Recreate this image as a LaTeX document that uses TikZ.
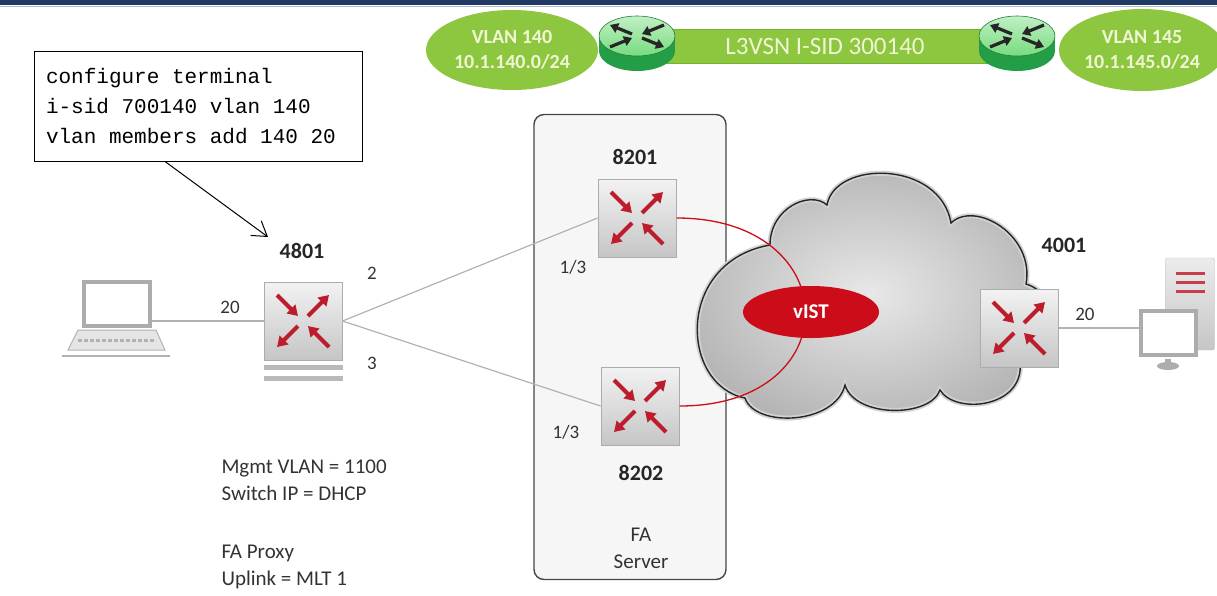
\documentclass[tikz,border=0pt]{standalone}
\usepackage{fontspec}
\setmainfont{Carlito}
\setmonofont{Liberation Mono}
\usepackage{tikz}
\usetikzlibrary{arrows.meta,calc,shapes.geometric}

\definecolor{vsngreen}{RGB}{141,198,63}
\definecolor{vsnedge}{RGB}{118,178,48}
\definecolor{rtrtop}{RGB}{118,220,126}
\definecolor{rtrside}{RGB}{36,158,70}
\definecolor{swred}{RGB}{188,28,44}
\definecolor{istred}{RGB}{204,12,24}
\definecolor{bubbletext}{RGB}{240,246,212}
\definecolor{topbar}{RGB}{31,56,100}

% monospaced CLI text; \clisp is one full character cell
\newcommand{\clifont}{\ttfamily\fontsize{21}{30}\selectfont}
\newcommand{\clisp}{\hspace*{0.6em}}

% the four red arrows on a switch
\newcommand{\swarrows}[1]{%
  \begin{scope}[shift={(#1.center)}, -{Triangle[length=10pt,width=12pt]}, line width=4pt, swred]
    \draw (-26,-26) -- (-5,-5);
    \draw (5,-5) -- (26,-26);
    \draw (-5,5) -- (-26,26);
    \draw (26,26) -- (5,5);
  \end{scope}}

% green router disc
\newcommand{\greenrouter}[2]{%
  \begin{scope}[shift={#2}]
    \coordinate (#1) at (0,0);
    \fill[rtrside] (0,15) ellipse[x radius=38, y radius=20];
    \fill[rtrside] (-38,0) rectangle (38,15);
    \shade[top color=rtrtop!45!white, bottom color=rtrtop, draw=rtrside!80!black, line width=0.6pt]
      (0,0) ellipse[x radius=38, y radius=20];
    \begin{scope}[-{Triangle[length=8pt,width=10pt]}, line width=3.2pt, black!85]
      \draw (-5,-2) -- (-27,-11);
      \draw (5,2) -- (27,11);
      \draw (27,-11) -- (5,-2);
      \draw (-27,11) -- (-5,2);
    \end{scope}
  \end{scope}}

\begin{document}
\begin{tikzpicture}[x=1pt, y=-1pt,
  switch/.style={rectangle, minimum size=78pt, inner sep=0pt, draw=gray!65, line width=1pt,
    top color=gray!10, bottom color=gray!45},
  devlbl/.style={font=\fontsize{22}{24}\selectfont\bfseries, text=black!85},
  portlbl/.style={font=\fontsize{19}{22}\selectfont, text=black!80},
  link/.style={draw=gray!60, line width=1.2pt},
  bubble/.style={ellipse, fill=vsngreen, inner sep=0pt, align=center, text=bubbletext,
    font=\fontsize{20}{25}\selectfont\bfseries},
  screen/.style={rectangle, draw=gray!65, line width=4pt, fill=white, inner sep=0pt}]

\useasboundingbox (0,0) rectangle (1217,595);

% title bar
\fill[topbar] (0,0) rectangle (1217,5);
\draw[topbar!35!white, line width=1.5pt] (0,6.5) -- (1217,6.5);

% L3VSN strip with its two VLANs
\node[rectangle, fill=vsngreen, draw=vsnedge, minimum width=370pt, minimum height=34pt,
  text=bubbletext, font=\fontsize{25}{28}\selectfont] (l3vsn) at (825,46) {L3VSN I-SID 300140};
\node[bubble, minimum width=172pt, minimum height=80pt] (vlan140) at (512,50) {VLAN 140\\10.1.140.0/24};
\node[bubble, minimum width=166pt, minimum height=82pt] (vlan145) at (1142,50) {VLAN 145\\10.1.145.0/24};
\greenrouter{r140}{(637,36)}
\greenrouter{r145}{(1017,36)}

% CLI box
\node[rectangle, draw=black, line width=1pt, fill=white, minimum width=328pt, minimum height=110pt,
  text width=304pt, align=left, font=\clifont] (cfg) at (198,106)
  {configure\clisp terminal\\i-sid\clisp 700140\clisp vlan\clisp 140\\vlan\clisp members\clisp add\clisp 140\clisp 20};

% FA server box
\node[rectangle, rounded corners=10pt, draw=gray!55!black, line width=1.4pt, fill=gray!7,
  minimum width=192pt, minimum height=465pt] (fa) at (630,347) {};
\node[align=center, font=\fontsize{21}{27}\selectfont, text=black!80] (faname) at (641,548) {FA\\Server};

% edge switch and laptop
\node[screen, minimum width=66pt, minimum height=44pt] (laptop) at (117,304) {};
\filldraw[draw=gray!60, fill=gray!20, line width=1pt]
  ($(laptop.south west)+(-4,2)$) -- ($(laptop.south east)+(4,2)$) -- ++(9,20) -- ($(laptop.south west)+(-14,22)$) -- cycle;
\draw[gray!60, line width=3pt, dash pattern=on 4pt off 2pt] ($(laptop.south west)+(-4,12)$) -- ($(laptop.south east)+(4,12)$);
\draw[gray!60, line width=2.5pt] ($(laptop.south west)+(-20,28)$) -- ($(laptop.south east)+(18,28)$);

\node[switch] (s4801) at (303,321) {};
\swarrows{s4801}
\fill[gray!55] ($(s4801.south west)+(0,4)$) rectangle ($(s4801.south east)+(0,9)$);
\fill[gray!55] ($(s4801.south west)+(0,15)$) rectangle ($(s4801.south east)+(0,20)$);
\node[devlbl] (l4801) at (302,251) {4801};

\draw[link] (laptop.east |- s4801.west) -- (s4801.west) node[portlbl, pos=.7, above=3pt] {20};

\coordinate (cfgtip) at (268,237);
\draw[-{Straight Barb[length=14pt,width=18pt]}, line width=1pt] ([xshift=-33pt]cfg.south) -- (cfgtip);

% uplinks to the FA server
\node[switch] (s8201) at (637,218) {};
\node[switch] (s8202) at (640,406) {};
\draw[link] (s4801.east) -- (s8201.west);
\draw[link] (s4801.east) -- (s8202.west);
\node[portlbl] (p2) at (372,273) {2};
\node[portlbl] (p3) at (372,363) {3};
\node[portlbl] (p8201) at (573,267) {1/3};
\node[portlbl] (p8202) at (566,432) {1/3};

% fabric cloud
\path[draw=gray!35, line width=5pt, inner color=gray!18, outer color=gray!58]
  (770,245) .. controls (770,208) and (810,190) .. (827,205)
  .. controls (835,160) and (940,160) .. (951,223)
  .. controls (975,200) and (1035,235) .. (1026,284)
  .. controls (1062,295) and (1062,352) .. (1020,362)
  .. controls (1025,408) and (955,415) .. (940,390)
  .. controls (930,418) and (855,418) .. (845,385)
  .. controls (835,425) and (755,428) .. (745,398)
  .. controls (680,385) and (675,262) .. cycle;
\draw[gray!30!black, line width=1.4pt]
  (770,245) .. controls (770,208) and (810,190) .. (827,205)
  .. controls (835,160) and (940,160) .. (951,223)
  .. controls (975,200) and (1035,235) .. (1026,284)
  .. controls (1062,295) and (1062,352) .. (1020,362)
  .. controls (1025,408) and (955,415) .. (940,390)
  .. controls (930,418) and (855,418) .. (845,385)
  .. controls (835,425) and (755,428) .. (745,398)
  .. controls (680,385) and (675,262) .. cycle;

\swarrows{s8201}
\swarrows{s8202}
\node[devlbl] (l8201) at (635,157) {8201};
\node[devlbl] (l8202) at (641,473) {8202};

% vIST between the pair
\draw[istred, line width=1.3pt] (s8201.east) .. controls +(170,0) and +(170,0) .. (s8202.east);
\node[ellipse, fill=istred, minimum width=136pt, minimum height=52pt, text=white,
  font=\fontsize{21}{24}\selectfont\bfseries] (ist) at (811,312) {vIST};

% far end switch and server
\node[switch] (s4001) at (1019,328) {};
\swarrows{s4001}
\node[devlbl] (l4001) at (1064,245) {4001};
\node[rectangle, minimum width=49pt, minimum height=92pt, rounded corners=2pt, draw=gray!50,
  top color=gray!15, bottom color=gray!45] (srv) at (1190,304) {};
\foreach \dy in {-31,-22,-13}
  \draw[swred!85, line width=3pt] ($(srv.center)+(-14,\dy)$) -- ($(srv.center)+(15,\dy)$);
\node[screen, minimum width=55pt, minimum height=44pt] (mon) at (1168,333) {};
\fill[gray!65] ($(mon.south)+(0,9)$) ellipse[x radius=11, y radius=4];
\fill[gray!65] ($(mon.south)+(-3,2)$) rectangle ($(mon.south)+(3,8)$);
\draw[link] (s4001.east) -- (s4001.east -| mon.west) node[portlbl, pos=.33, above=3pt] {20};

% switch settings
\node[anchor=north west, align=left, font=\fontsize{21}{27}\selectfont, text=black!80] (mgmt) at (218,456)
  {Mgmt VLAN = 1100\\Switch IP = DHCP\\[31pt]FA Proxy\\Uplink = MLT 1};
\end{tikzpicture}
\end{document}
